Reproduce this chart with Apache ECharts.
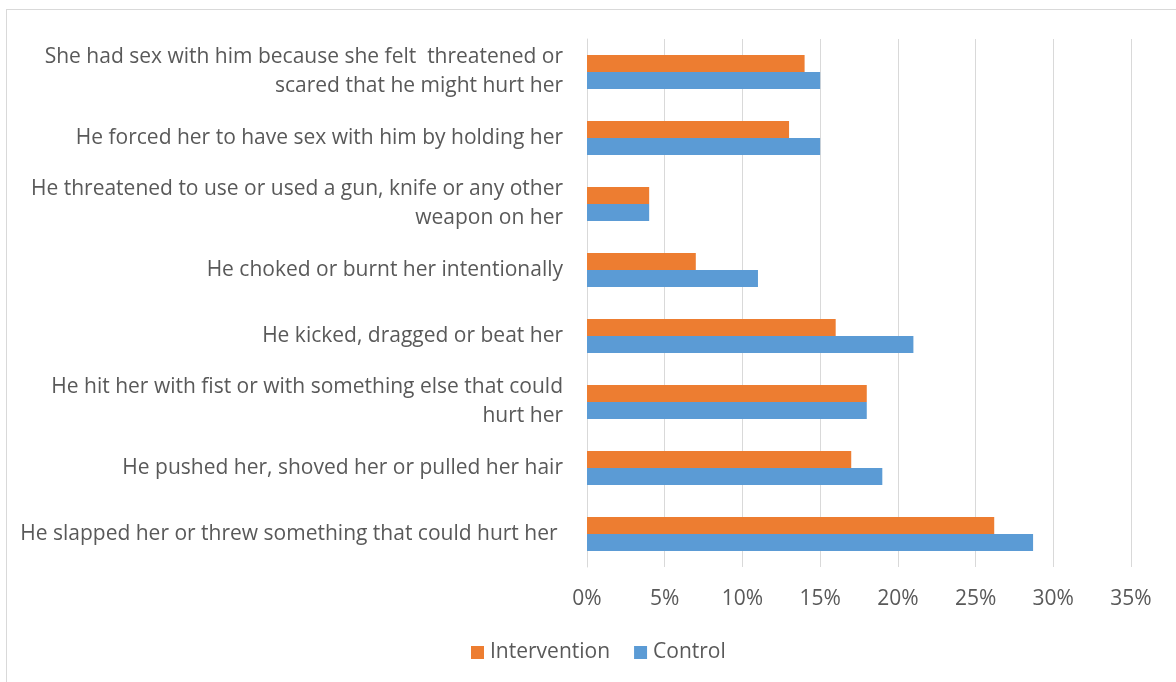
<!DOCTYPE html>
<html><head><meta charset="utf-8">
<script src="https://cdn.jsdelivr.net/npm/echarts@6/dist/echarts.min.js"></script>
<style>
html,body{margin:0;padding:0;background:#fff;}
#frame{position:absolute;left:6px;top:9px;width:1180px;height:680px;border:1px solid #d9d9d9;box-sizing:border-box;}
#c{position:absolute;left:0;top:0;width:1176px;height:682px;}
</style></head>
<body>
<div id="frame"></div>
<div id="c"></div>
<script>
const categories = [
  "She had sex with him because she felt  threatened or\nscared that he might hurt her",
  "He forced her to have sex with him by holding her",
  "He threatened to use or used a gun, knife or any other\nweapon on her",
  "He choked or burnt her intentionally",
  "He kicked, dragged or beat her",
  "He hit her with fist or with something else that could\nhurt her",
  "He pushed her, shoved her or pulled her hair",
  "He slapped her or threw something that could hurt her "
];
const intervention = [14, 13, 4, 7, 16, 18, 17, 26.2];
const control = [15, 15, 4, 11, 21, 18, 19, 28.7];
const xTicks = [0, 5, 10, 15, 20, 25, 30, 35];

const FONT = '"Open Sans"';
const chart = echarts.init(document.getElementById('c'), null, {renderer:'canvas'});
chart.setOption({
  animation:false,
  textStyle:{fontFamily:FONT},
  grid:{left:587, right:45, top:39, bottom:115, containLabel:false},
  legend:{
    data:['Intervention','Control'],
    bottom:14, left:466,
    itemWidth:13, itemHeight:13, itemGap:24,
    icon:'rect',
    textStyle:{fontSize:21, color:'#595959', fontFamily:FONT, padding:[0,0,0,1]}
  },
  xAxis:{
    type:'value', min:xTicks[0], max:xTicks[xTicks.length-1], interval:5,
    axisLine:{show:false}, axisTick:{show:false},
    splitLine:{show:true, lineStyle:{color:'#d9d9d9', width:1}},
    axisLabel:{formatter:'{value}%', fontSize:21, color:'#595959', margin:22, fontFamily:FONT}
  },
  yAxis:{
    type:'category', data:categories, inverse:true,
    axisLine:{show:true, lineStyle:{color:'#d9d9d9'}},
    axisTick:{show:false},
    axisLabel:{fontSize:21, color:'#595959', margin:24, align:'right', lineHeight:29, fontFamily:FONT}
  },
  series:[
    {name:'Intervention', type:'bar', data:intervention, barWidth:17, barGap:'0%', barCategoryGap:'48%',
      itemStyle:{color:'#ED7D31'}},
    {name:'Control', type:'bar', data:control, barWidth:17, barGap:'0%', barCategoryGap:'48%',
      itemStyle:{color:'#5B9BD5'}}
  ]
});
</script>
</body></html>
